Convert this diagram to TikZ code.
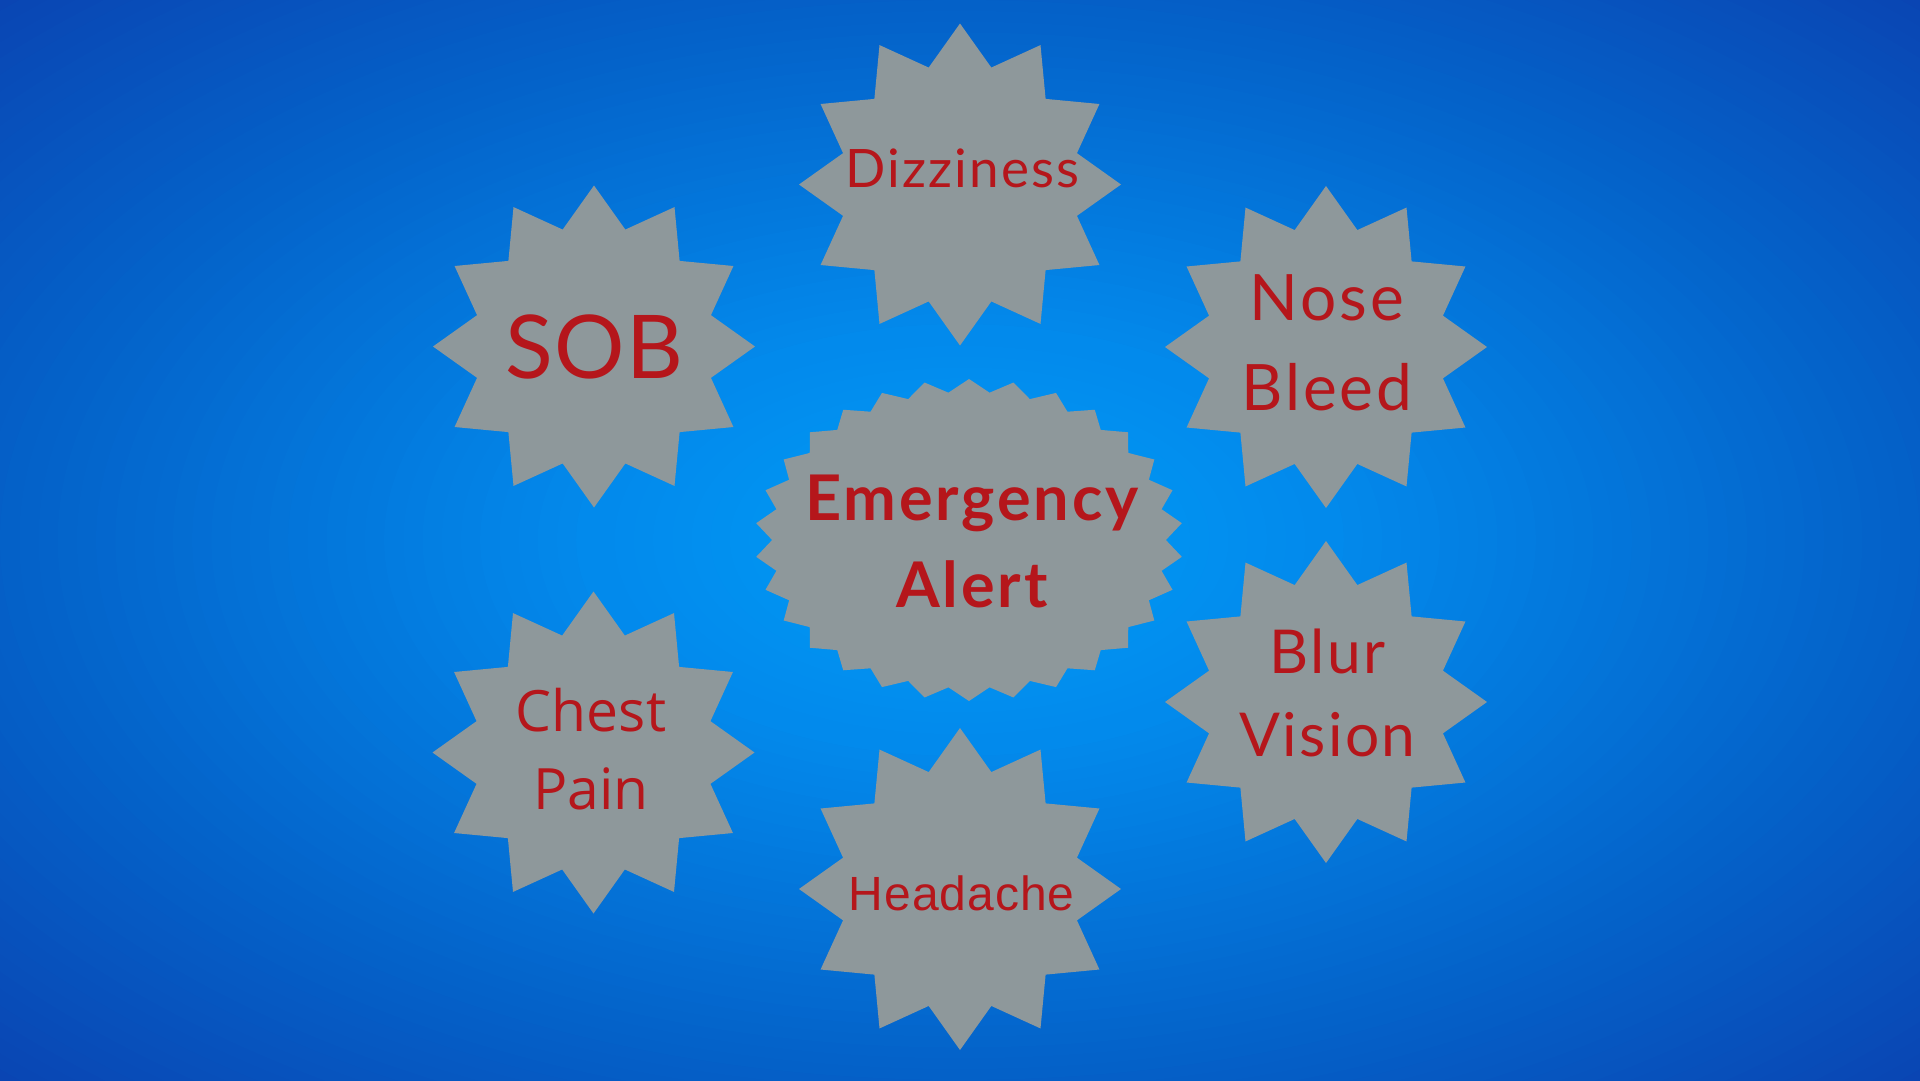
\documentclass[tikz,border=0pt]{standalone}
\usepackage{fontspec}
\usetikzlibrary{shapes.geometric}
\newfontfamily\lato{Lato}
\newfontfamily\osans{Open Sans}
\newfontfamily\lsans{Liberation Sans}[LetterSpace=2.0]
\definecolor{stargray}{RGB}{142,152,155}
\definecolor{alertred}{RGB}{181,22,27}
\newcommand{\ls}[1]{\addfontfeatures{LetterSpace=#1}}
\begin{document}
\begin{tikzpicture}[x=1pt,y=-1pt,
  burst/.style={star, star points=12, star point ratio=1.33, minimum size=322pt,
    inner sep=0pt, outer sep=0pt, fill=stargray, draw=none},
  bigburst/.style={star, star points=30, star point ratio=1.087, minimum size=322pt,
    inner sep=0pt, outer sep=0pt, fill=stargray, draw=none, xscale=1.329},
  lbl/.style={text=alertred, align=center, inner sep=0pt, outer sep=0pt, anchor=base}]
\path[use as bounding box] (0,0) rectangle (1920,1080);

% radial background: concentric ellipses
\begin{scope}
\clip (0,0) rectangle (1920,1080);
\foreach \i in {0,...,72} {
  \pgfmathsetmacro\s{1.46-\i*0.02}
  \pgfmathtruncatemacro\R{\s<0.4 ? 3*\s/0.4 : (\s<1 ? 3+2*(\s-0.4)/0.6 : 5+5*(\s-1)/0.42)}
  \pgfmathtruncatemacro\G{\s<0.4 ? 157-19*\s/0.4 : (\s<1 ? 138-41*(\s-0.4)/0.6 : 97-27*(\s-1)/0.42)}
  \pgfmathtruncatemacro\B{\s<0.4 ? 247-11*\s/0.4 : (\s<1 ? 236-36*(\s-0.4)/0.6 : 200-20*(\s-1)/0.42)}
  \definecolor{bgtmp}{RGB}{\R,\G,\B}
  \fill[bgtmp] (960,540) ellipse [x radius=960*\s, y radius=540*\s];
}
\end{scope}

% symptom bursts
\node[burst] (dizz) at (960,184.5) {};
\node[burst] (sob) at (594,346.5) {};
\node[burst] (nose) at (1326,347) {};
\node[burst] (blur) at (1326,702) {};
\node[burst] (chest) at (593.5,752.5) {};
\node[burst] (head) at (960,889) {};

% central burst
\begin{scope}[shift={(969,540)}]
  \node[bigburst] (alert) at (0,0) {};
\end{scope}

% labels (anchor base = baseline of last line)
\node[lbl, font={\lato\ls{4}\fontsize{53}{60}\selectfont}] (dizzt) at (962.5,187.3) {Dizziness};
\node[lbl, font={\lato\ls{2}\fontsize{88}{100}\selectfont}] (sobt) at (594.5,378.3) {SOB};
\node[lbl, font={\lato\ls{4.5}\fontsize{64}{89.3}\selectfont}] (noset) at (1327,410) {Nose\\Bleed};
\node[lbl, font={\lato\ls{4}\fontsize{60.5}{83.4}\selectfont}] (blurt) at (1327.5,756.7) {Blur\\Vision};
\node[lbl, font={\osans\fontsize{57}{77.3}\selectfont}] (chestt) at (591,809) {Chest\\Pain};
\node[lbl, font={\lsans\fontsize{48}{52}\selectfont}] (headt) at (961.7,910) {Headache};
\node[lbl, font={\lato\bfseries\ls{4.5}\fontsize{63}{87.3}\selectfont}] (alertt) at (972,607.3) {Emergency\\Alert};
\end{tikzpicture}
\end{document}
